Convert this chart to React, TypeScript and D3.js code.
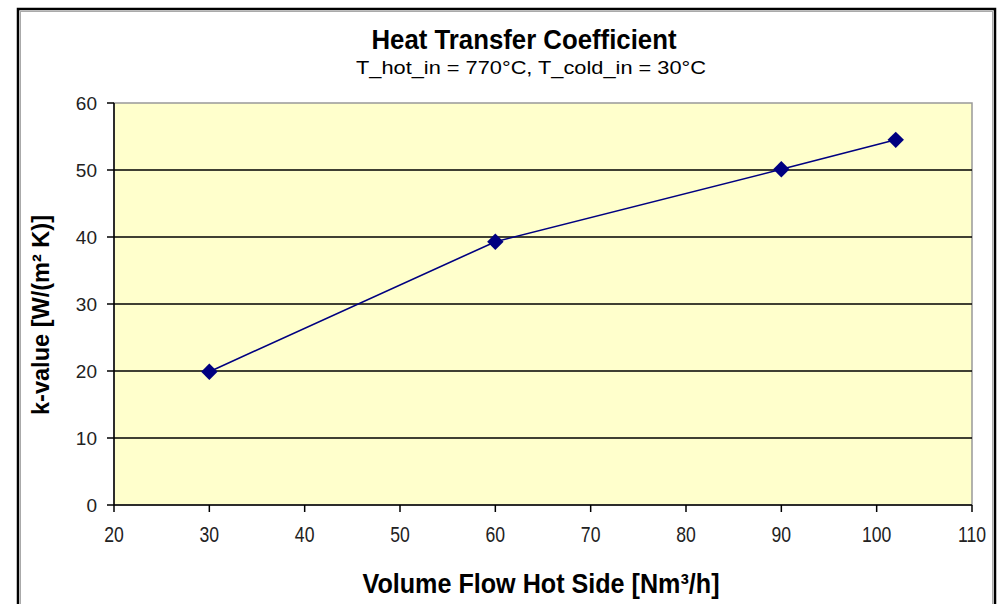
import * as d3 from "d3";

// data
const flowRates = [30, 60, 90, 102];
const kValues = [19.9, 39.3, 50.1, 54.5];
const xTicks = [20, 30, 40, 50, 60, 70, 80, 90, 100, 110];
const yTicks = [0, 10, 20, 30, 40, 50, 60];

const W = 998;
const H = 604;
const plot = { left: 114, right: 972, top: 103, bottom: 505 };
const font = "'Liberation Sans', Arial, sans-serif";

export default function App() {
  const x = d3.scaleLinear().domain([20, 110]).range([plot.left, plot.right]);
  const y = d3.scaleLinear().domain([0, 60]).range([plot.bottom, plot.top]);

  const points = flowRates.map((f, i) => [f, kValues[i]] as [number, number]);
  const line = d3
    .line<[number, number]>()
    .x((d) => x(d[0]))
    .y((d) => y(d[1]));
  const diamond = d3.symbol().type(d3.symbolSquare).size(135)();

  return (
    <svg
      width={W}
      height={H}
      style={{ position: "absolute", left: 0, top: 0, background: "#fff" }}
    >
      {/* outer chart frame */}
      <rect x={18} y={9} width={977} height={H} fill="#fff" stroke="#000" strokeWidth={2.5} />
      <rect x={20.5} y={11.5} width={972} height={H} fill="none" stroke="#aaa" strokeWidth={1} />

      {/* titles */}
      <text
        x={524}
        y={49}
        textAnchor="middle"
        fontFamily={font}
        fontWeight="bold"
        fontSize={27}
        textLength={305}
        lengthAdjust="spacingAndGlyphs"
      >
        Heat Transfer Coefficient
      </text>
      <text
        x={531}
        y={74}
        textAnchor="middle"
        fontFamily={font}
        fontSize={19}
        textLength={350}
        lengthAdjust="spacingAndGlyphs"
      >
        T_hot_in = 770°C, T_cold_in = 30°C
      </text>

      {/* plot area */}
      <rect
        x={plot.left}
        y={plot.top}
        width={plot.right - plot.left}
        height={plot.bottom - plot.top}
        fill="#FFFFCC"
        stroke="#999"
        strokeWidth={1.5}
      />

      {/* gridlines */}
      {yTicks
        .filter((t) => t > 0 && t < 60)
        .map((t) => (
          <line
            key={"g" + t}
            x1={plot.left}
            x2={plot.right}
            y1={y(t)}
            y2={y(t)}
            stroke="#000"
            strokeWidth={1.5}
          />
        ))}

      {/* axes */}
      <line x1={plot.left} x2={plot.left} y1={plot.top} y2={plot.bottom} stroke="#000" strokeWidth={1.5} />
      <line x1={plot.left} x2={plot.right} y1={plot.bottom} y2={plot.bottom} stroke="#000" strokeWidth={1.5} />

      {yTicks.map((t) => (
        <g key={"y" + t}>
          <line x1={plot.left - 7} x2={plot.left} y1={y(t)} y2={y(t)} stroke="#000" strokeWidth={1.5} />
          <text
            x={97}
            y={y(t)}
            dy="0.35em"
            textAnchor="end"
            fontFamily={font}
            fontSize={19}
            fill="#222"
          >
            {t}
          </text>
        </g>
      ))}

      {xTicks.map((t) => (
        <g key={"x" + t}>
          <line x1={x(t)} x2={x(t)} y1={plot.bottom} y2={plot.bottom + 7} stroke="#000" strokeWidth={1.5} />
          <text
            x={x(t)}
            y={542}
            textAnchor="middle"
            fontFamily={font}
            fontSize={22}
            fill="#222"
            transform={`translate(${x(t)},0) scale(0.8,1) translate(${-x(t)},0)`}
          >
            {t}
          </text>
        </g>
      ))}

      {/* axis titles */}
      <text
        x={541}
        y={593}
        textAnchor="middle"
        fontFamily={font}
        fontWeight="bold"
        fontSize={27}
        textLength={357}
        lengthAdjust="spacingAndGlyphs"
      >
        Volume Flow Hot Side [Nm³/h]
      </text>
      <text
        transform="translate(49,315) rotate(-90)"
        textAnchor="middle"
        fontFamily={font}
        fontWeight="bold"
        fontSize={24}
        textLength={200}
        lengthAdjust="spacingAndGlyphs"
      >
        k-value [W/(m² K)]
      </text>

      {/* series */}
      <path d={line(points) ?? ""} fill="none" stroke="#000080" strokeWidth={1.6} />
      {points.map((p, i) => (
        <path
          key={"m" + i}
          d={diamond ?? ""}
          transform={`translate(${x(p[0])},${y(p[1])}) rotate(45)`}
          fill="#000080"
        />
      ))}
    </svg>
  );
}
